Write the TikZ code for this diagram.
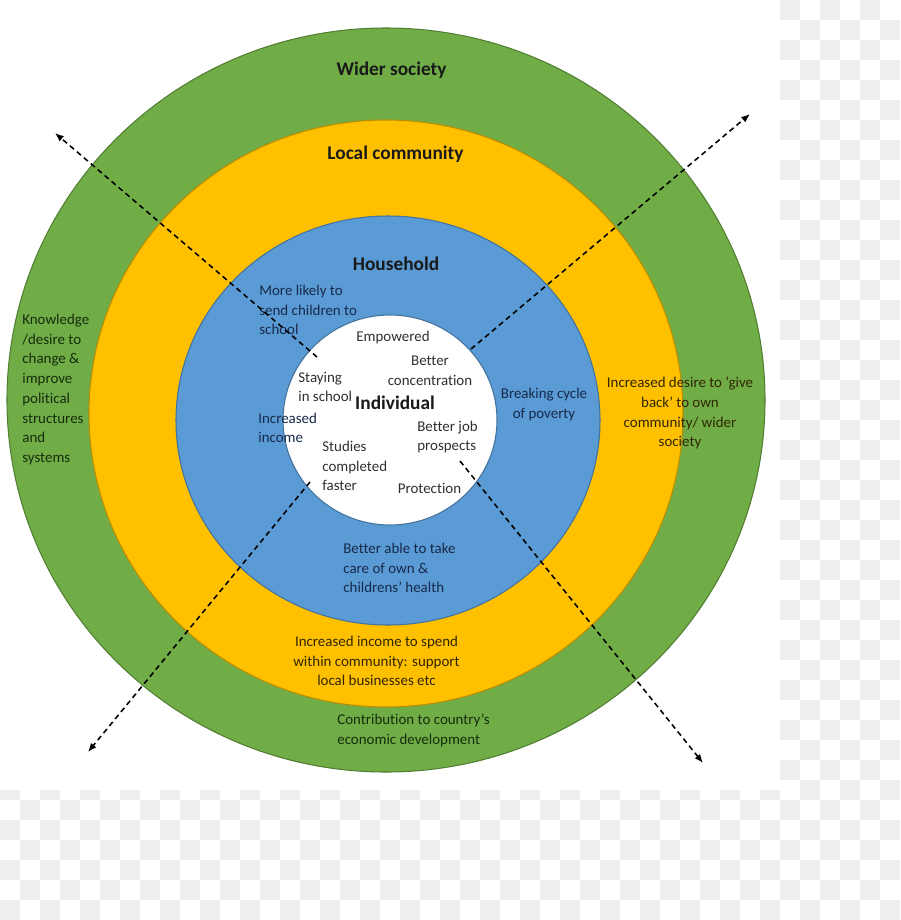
\documentclass[tikz,border=0pt]{standalone}
\usepackage{fontspec}
\setmainfont{Carlito}[Ligatures={NoCommon}]
\usetikzlibrary{arrows.meta}
\definecolor{ringgreen}{HTML}{70AD47}
\definecolor{ringyellow}{HTML}{FFC000}
\definecolor{ringblue}{HTML}{5B9BD5}
\definecolor{edgegreen}{HTML}{507E32}
\definecolor{edgeyellow}{HTML}{BC8C00}
\definecolor{edgeblue}{HTML}{41719C}
\definecolor{checkgray}{HTML}{EEEEEE}
\definecolor{txtwhite}{HTML}{303030}
\definecolor{txtblue}{HTML}{17294A}
\definecolor{txtyellow}{HTML}{302600}
\definecolor{txtgreen}{HTML}{162C0C}

\begin{document}
\begin{tikzpicture}[
        x=0.02cm, y=-0.02cm,
        ring/.style={line width=0.6pt},
        title/.style={font=\bfseries\fontsize{11}{13}\selectfont, text=black!90, inner sep=0pt},
        body/.style={font=\fontsize{8.5}{11.2}\selectfont, inner sep=0pt},
        flow/.style={-{Latex[length=5pt,width=4pt]}, line width=0.9pt, dash pattern=on 3pt off 2.2pt}
    ]
        \useasboundingbox (0,0) rectangle (900,920);

        % Checker background
        \foreach \i in {0,...,44} {
            \foreach \j in {0,...,45} {
                \pgfmathtruncatemacro{\odd}{mod(\i+\j,2)}
                \ifnum\odd=1 \fill[checkgray] (20*\i,20*\j) rectangle ++(20,20); \fi
            }
        }
        \fill[white] (0,0) rectangle (780,790);

        % Rings
        \draw[ring, fill=ringgreen, draw=edgegreen] (386,400) ellipse [x radius=379, y radius=372];
        \draw[ring, fill=ringyellow, draw=edgeyellow] (386,413.5) ellipse [x radius=297, y radius=293.5];
        \draw[ring, fill=ringblue, draw=edgeblue] (388,420.5) ellipse [x radius=212, y radius=204.5];
        \draw[ring, fill=white, draw=edgeblue] (390,420) ellipse [x radius=107, y radius=105];

        % Titles
        \node[title] (wider) at (391.5,70) {Wider society};
        \node[title] (local) at (395.5,154) {Local community};
        \node[title] (house) at (396,264) {Household};
        \node[title] (indiv) at (395,403) {Individual};

        % Wider society
        \node[body, text=txtgreen, anchor=west, align=left] (knowledge) at (22,389.5) {
            Knowledge\\
            /desire to\\
            change \&\\
            improve\\
            political\\
            structures\\
            and\\
            systems
        };
        \node[body, text=txtgreen, anchor=west, align=left] (contrib) at (337,730.5) {
            Contribution to country’s\\
            economic development
        };

        % Local community
        \node[body, text=txtyellow, align=center] (giveback) at (680,413) {
            Increased desire to ‘give\\
            back’ to own\\
            community/ wider\\
            society
        };
        \node[body, text=txtyellow, align=center] (spend) at (376.5,661) {
            Increased income to spend\\
            within community: support\\
            local businesses etc
        };

        % Household
        \node[body, text=txtblue, anchor=west, align=left] (likely) at (259,310) {
            More likely to\\
            send children to\\
            school
        };
        \node[body, text=txtblue, align=center] (poverty) at (544,404.5) {
            Breaking cycle\\
            of poverty
        };
        \node[body, text=txtblue, anchor=west, align=left] (health) at (343,568) {
            Better able to take\\
            care of own \&\\
            childrens’ health
        };
        \node[body, text=txtblue, anchor=west, align=left] (income) at (258,428) {
            Increased\\
            income
        };

        % Individual
        \node[body, text=txtwhite] (empower) at (393,338) {Empowered};
        \node[body, text=txtwhite, align=center] (concentr) at (430,370.5) {
            Better\\
            concentration
        };
        \node[body, text=txtwhite, anchor=west, align=left] (staying) at (298,387) {
            Staying\\
            in school
        };
        \node[body, text=txtwhite, anchor=west, align=left] (jobs) at (417,437) {
            Better job\\
            prospects
        };
        \node[body, text=txtwhite, anchor=west, align=left] (studies) at (322,466) {
            Studies\\
            completed\\
            faster
        };
        \node[body, text=txtwhite] (protect) at (429.5,488) {Protection};

        % Arrows
        \coordinate (nwin) at (317,357);
        \coordinate (nwout) at (55,133);
        \coordinate (nein) at (471,349);
        \coordinate (neout) at (750,114);
        \coordinate (swin) at (310,482);
        \coordinate (swout) at (88,752);
        \coordinate (sein) at (460,461);
        \coordinate (seout) at (703,763);
        \draw[flow] (nwin) -- (nwout);
        \draw[flow] (nein) -- (neout);
        \draw[flow] (swin) -- (swout);
        \draw[flow] (sein) -- (seout);
    \end{tikzpicture}
\end{document}
